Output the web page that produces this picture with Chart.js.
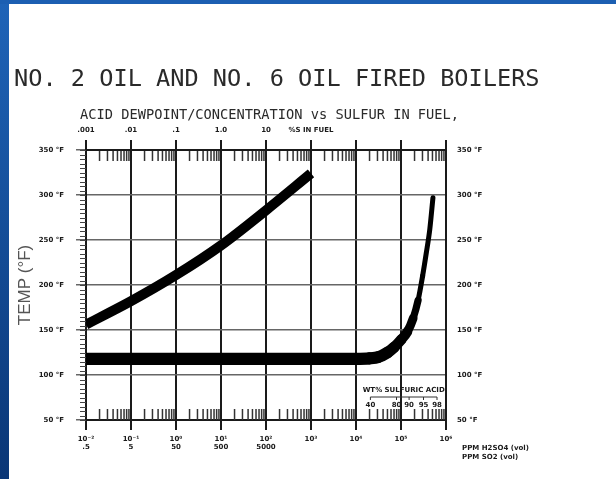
<!DOCTYPE html>
<html>
<head>
<meta charset="utf-8">
<script src="https://cdn.jsdelivr.net/npm/chart.js@4.4.0/dist/chart.umd.min.js"></script>
<style>
  html, body { margin: 0; padding: 0; background: #fff; }
  #wrap { width: 616px; height: 479px; }
</style>
</head>
<body>
<div id="wrap"><canvas id="chart" width="616" height="479"></canvas></div>
<script>
const TITLE = "NO. 2 OIL AND NO. 6 OIL FIRED BOILERS";
const SUBTITLE = "ACID DEWPOINT/CONCENTRATION vs SULFUR IN FUEL,";

// x axis = log10 of ppm H2SO4 (vol)
const decades      = [-2, -1, 0, 1, 2, 3, 4, 5, 6];
const h2so4Labels  = ["10⁻²", "10⁻¹", "10⁰", "10¹", "10²", "10³", "10⁴", "10⁵", "10⁶"];
const so2Labels    = [".5", "5", "50", "500", "5000", "", "", "", ""];
const sulfurLabels = [".001", ".01", ".1", "1.0", "10", "%S IN FUEL", "", "", ""];

// dewpoint curve (upper left)
const dewX = [-2, -1, 0, 1, 2, 3];
const dewT = [156, 182, 211, 244, 283, 324];

// concentration curve (flat, then steep rise)
const concX = [-2, 4.0, 4.3, 4.5, 4.7, 4.85, 5.0, 5.14, 5.27, 5.38, 5.48, 5.56, 5.64, 5.71];
const concT = [118, 118, 118.5, 120, 125, 131, 139, 148, 163, 183, 210, 235, 262, 297];

// wt% sulfuric acid inset scale
const acidWt  = ["40", "80", "90", "95", "98"];
const acidWtX = [4.32, 4.9, 5.18, 5.5, 5.8];

const TICK_FONT = { family: "DejaVu Sans", size: 7, weight: "bold" };
const INK = "#1a1a1a";

const decor = {
  id: "decor",
  beforeDraw(chart) {
    const ctx = chart.ctx;
    ctx.save();
    ctx.fillStyle = "#fff";
    ctx.fillRect(0, 0, chart.width, chart.height);
    const g = ctx.createLinearGradient(0, 0, 0, chart.height);
    g.addColorStop(0, "#1f64b8");
    g.addColorStop(1, "#0a3676");
    ctx.fillStyle = g;
    ctx.fillRect(0, 0, 9, chart.height);
    ctx.fillStyle = "#1c5fb2";
    ctx.fillRect(0, 0, chart.width, 4);
    ctx.restore();
  },
  beforeDatasetsDraw(chart) {
    const { ctx, chartArea: a, scales: { x, y } } = chart;
    ctx.save();

    // ruler on the left axis
    ctx.strokeStyle = "#444";
    ctx.lineWidth = 1;
    for (let t = 50; t <= 350; t += 5) {
      const py = Math.round(y.getPixelForValue(t)) + 0.5;
      ctx.beginPath();
      ctx.moveTo(a.left - 6, py);
      ctx.lineTo(a.left, py);
      ctx.stroke();
    }

    // log ladders along top and bottom
    ctx.strokeStyle = "#333";
    ctx.lineWidth = 1.5;
    for (let d = -2; d < 6; d++) {
      for (let k = 2; k <= 9; k++) {
        const px = x.getPixelForValue(d + Math.log10(k));
        ctx.beginPath();
        ctx.moveTo(px, a.top + 1);
        ctx.lineTo(px, a.top + 11);
        ctx.moveTo(px, a.bottom);
        ctx.lineTo(px, a.bottom - 11);
        ctx.stroke();
      }
    }

    // wt% sulfuric acid inset
    const xl = x.getPixelForValue(acidWtX[0]);
    const xr = x.getPixelForValue(acidWtX[acidWtX.length - 1]);
    ctx.fillStyle = INK;
    ctx.font = "bold 7px 'DejaVu Sans'";
    ctx.textAlign = "center";
    ctx.textBaseline = "middle";
    ctx.fillText("WT% SULFURIC ACID", (xl + xr) / 2, a.bottom - 30);
    ctx.lineWidth = 1;
    ctx.beginPath();
    ctx.moveTo(xl, a.bottom - 23);
    ctx.lineTo(xr, a.bottom - 23);
    ctx.stroke();
    acidWt.forEach((lbl, i) => {
      const px = x.getPixelForValue(acidWtX[i]);
      ctx.beginPath();
      ctx.moveTo(px, a.bottom - 23);
      ctx.lineTo(px, a.bottom - 20);
      ctx.stroke();
      ctx.fillText(lbl, px, a.bottom - 15);
    });

    // subtitle
    ctx.textAlign = "left";
    ctx.fillStyle = "#2a2a2a";
    ctx.font = "13.7px 'DejaVu Sans Mono'";
    ctx.fillText(SUBTITLE, 80, 115);

    // units right of the bottom axis
    ctx.fillStyle = INK;
    ctx.font = "bold 7px 'DejaVu Sans'";
    const ux = x.getPixelForValue(6) + 16;
    ctx.fillText("PPM H2SO4 (vol)", ux, a.bottom + 28);
    ctx.fillText("PPM SO2 (vol)", ux, a.bottom + 37);

    ctx.restore();
  }
};

// line gets thinner as the concentration curve climbs
function concWidth(t) {
  return Math.max(5, 12 - (t - 120) * 0.09);
}

new Chart(document.getElementById("chart"), {
  type: "line",
  data: {
    datasets: [
      {
        label: "Dewpoint",
        data: dewX.map((v, i) => ({ x: v, y: dewT[i] })),
        borderColor: "#000",
        borderWidth: 10,
        pointRadius: 0,
        cubicInterpolationMode: "monotone"
      },
      {
        label: "Concentration",
        data: concX.map((v, i) => ({ x: v, y: concT[i] })),
        borderColor: "#000",
        borderWidth: 12,
        borderCapStyle: "round",
        pointRadius: 0,
        cubicInterpolationMode: "monotone",
        segment: { borderWidth: c => concWidth((c.p0.parsed.y + c.p1.parsed.y) / 2) }
      }
    ]
  },
  options: {
    responsive: false,
    animation: false,
    layout: { padding: { left: 14, right: 0, top: 0, bottom: 0 } },
    plugins: {
      legend: { display: false },
      tooltip: { enabled: false },
      title: {
        display: true,
        text: TITLE,
        align: "start",
        color: "#2a2a2a",
        font: { family: "DejaVu Sans Mono", size: 23.6, weight: "normal", lineHeight: 1 },
        padding: { top: 68, bottom: 0 }
      }
    },
    scales: {
      x: {
        type: "linear",
        position: "bottom",
        min: -2, max: 6,
        afterFit: s => { s.height = 59; },
        ticks: {
          stepSize: 1, autoSkip: false, maxRotation: 0, padding: 5,
          color: INK, font: TICK_FONT,
          callback: v => {
            const i = decades.indexOf(v);
            if (i < 0) return "";
            return so2Labels[i] ? [h2so4Labels[i], so2Labels[i]] : h2so4Labels[i];
          }
        },
        grid: { color: INK, lineWidth: 2, tickLength: 10 },
        border: { color: INK, width: 2 }
      },
      xTop: {
        type: "linear",
        position: "top",
        min: -2, max: 6,
        afterFit: s => { s.height = 58.4; },
        ticks: {
          stepSize: 1, autoSkip: false, maxRotation: 0, padding: 6,
          color: INK, font: TICK_FONT,
          callback: v => {
            const i = decades.indexOf(v);
            return i < 0 ? "" : sulfurLabels[i];
          }
        },
        grid: { color: INK, lineWidth: 2, tickLength: 10, drawOnChartArea: false },
        border: { color: INK, width: 2 }
      },
      y: {
        type: "linear",
        position: "left",
        min: 50, max: 350,
        afterFit: s => { s.width = 72; },
        ticks: {
          stepSize: 50, padding: 12, color: INK, font: TICK_FONT,
          callback: v => v + " °F"
        },
        grid: { color: "#666", lineWidth: 1.5, tickLength: 10 },
        border: { color: INK, width: 2 },
        title: {
          display: true,
          text: "TEMP (°F)",
          color: "#555",
          font: { family: "Liberation Sans", size: 17, weight: "normal", lineHeight: 1.2 },
          padding: { top: 1, bottom: 0 }
        }
      },
      yRight: {
        type: "linear",
        position: "right",
        min: 50, max: 350,
        afterFit: s => { s.width = 170; },
        ticks: {
          stepSize: 50, padding: 11, color: INK, font: TICK_FONT,
          callback: v => v + " °F"
        },
        grid: { drawOnChartArea: false, drawTicks: false },
        border: { color: INK, width: 2 }
      }
    }
  },
  plugins: [decor]
});
</script>
</body>
</html>
